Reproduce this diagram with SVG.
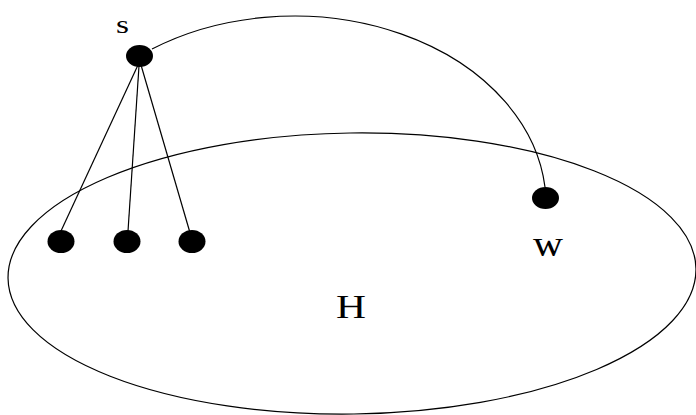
<svg xmlns="http://www.w3.org/2000/svg" width="696" height="415" viewBox="0 0 696 415">
<style>
.edge{fill:none;stroke:#000;stroke-width:1.2}
.dot{fill:#000}
.lbl{font-family:"Liberation Serif","Times New Roman",serif;fill:#000}
</style>
<rect width="696" height="415" fill="#fff"/>
<g id="H">
<ellipse cx="352" cy="273.5" rx="344" ry="140.5" transform="rotate(-0.8 352 273.5)" class="edge"/>
<text x="336" y="318" class="lbl" font-size="34" textLength="30" lengthAdjust="spacingAndGlyphs">H</text>
</g>
<g id="connectors">
<path class="edge" d="M138,65 L61,231"/>
<path class="edge" d="M139,66 L128,231"/>
<path class="edge" d="M141,65 L189.5,231"/>
<path class="edge" d="M152,49 A252,189 0 0 1 545,187"/>
</g>
<g id="s">
<ellipse class="dot" cx="139.5" cy="56" rx="13.5" ry="11"/>
<text x="116" y="33" class="lbl" font-size="26" textLength="13" lengthAdjust="spacingAndGlyphs">s</text>
</g>
<g id="a1"><ellipse class="dot" cx="61" cy="241.5" rx="13.5" ry="11.5"/></g>
<g id="a2"><ellipse class="dot" cx="127" cy="241.5" rx="13.5" ry="11.5"/></g>
<g id="a3"><ellipse class="dot" cx="192" cy="241.5" rx="13.5" ry="11.5"/></g>
<g id="w">
<ellipse class="dot" cx="545.5" cy="198" rx="13.5" ry="11"/>
<text x="533" y="256" class="lbl" font-size="35" textLength="30" lengthAdjust="spacingAndGlyphs">w</text>
</g>
</svg>
